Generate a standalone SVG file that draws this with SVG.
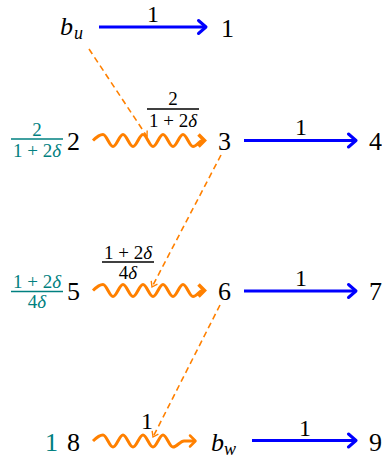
<svg xmlns="http://www.w3.org/2000/svg" width="382" height="459" viewBox="0 0 382 459">
<style>
text { font-family: "Liberation Serif", "Times New Roman", Times, "DejaVu Serif", serif; fill: #000; }
.n { font-size: 26px; }
.lab { font-size: 24px; text-anchor: middle; }
.fr { font-size: 19px; text-anchor: middle; }
.teal { fill: #008080; }
.it { font-style: italic; }
.sub { font-size: 18px; font-style: italic; }
.blue { stroke: #0000ff; stroke-width: 3; fill: none; }
.wave { stroke: #ff8000; stroke-width: 3; fill: none; stroke-linejoin: round; }
.dash { stroke: #ff8000; stroke-width: 1.6; fill: none; stroke-dasharray: 6 4; }
.barT { stroke: #008080; stroke-width: 1.5; }
.barB { stroke: #000; stroke-width: 1.5; }
</style>
<defs>
<marker id="bh" markerUnits="userSpaceOnUse" markerWidth="14" markerHeight="18" viewBox="0 0 14 18" refX="11" refY="9" orient="auto">
<path d="M3.5,2.5 L11,9 L3.5,15.5" fill="none" stroke="#0000ff" stroke-width="3" stroke-linejoin="round" stroke-linecap="round"/>
</marker>
<marker id="dh" markerUnits="userSpaceOnUse" markerWidth="10" markerHeight="10" viewBox="0 0 10 10" refX="8" refY="5" orient="auto">
<path d="M3,1.5 L8,5 L3,8.5" fill="none" stroke="#ff8000" stroke-width="1.4"/>
</marker>
</defs>

<g id="connectors">
<line class="blue" x1="99" y1="27" x2="206" y2="27" marker-end="url(#bh)"/>
<line class="blue" x1="244" y1="140.5" x2="356" y2="140.5" marker-end="url(#bh)"/>
<line class="blue" x1="244" y1="291" x2="356" y2="291" marker-end="url(#bh)"/>
<line class="blue" x1="252" y1="440.5" x2="356" y2="440.5" marker-end="url(#bh)"/>
<path class="wave" d="M93,140.5 C96,137.5 99,134.5 103,134.5 C106.6,134.5 109.4,146.5 113,146.5 S119.4,134.5 123,134.5 S129.4,146.5 133,146.5 S139.4,134.5 143,134.5 S149.4,146.5 153,146.5 S159.4,134.5 163,134.5 S169.4,146.5 173,146.5 S179.4,134.5 183,134.5 S189.4,146.5 193,146.5 C197,146.5 199,140.5 203,140.5"/>
<path d="M198.5,134.5 L204.5,140.5 L198.5,146.5" fill="none" stroke="#ff8000" stroke-width="3.5"/>
<path class="wave" d="M93,290.5 C96,287.5 99,284.5 103,284.5 C106.6,284.5 109.4,296.5 113,296.5 S119.4,284.5 123,284.5 S129.4,296.5 133,296.5 S139.4,284.5 143,284.5 S149.4,296.5 153,296.5 S159.4,284.5 163,284.5 S169.4,296.5 173,296.5 S179.4,284.5 183,284.5 S189.4,296.5 193,296.5 C197,296.5 199,290.5 203,290.5"/>
<path d="M198.5,284.5 L204.5,290.5 L198.5,296.5" fill="none" stroke="#ff8000" stroke-width="3.5"/>
<path class="wave" d="M93,441 C96,438 99,435 103,435 C106.6,435 109.4,447 113,447 S119.4,435 123,435 S129.4,447 133,447 S139.4,435 143,435 S149.4,447 153,447 S159.4,435 163,435 S169.4,447 173,447 C177,447 180,441 184,441 L195,441"/>
<path d="M190,435.5 L195.5,441 L190,446.5" fill="none" stroke="#ff8000" stroke-width="2.5" stroke-linejoin="round" stroke-linecap="round"/>
<line class="dash" x1="89" y1="49" x2="147" y2="136.5" marker-end="url(#dh)"/>
<line class="dash" x1="221" y1="155" x2="152" y2="287" marker-end="url(#dh)"/>
<line class="dash" x1="220" y1="305" x2="153" y2="437" marker-end="url(#dh)"/>
</g>

<g id="edge-labels">
<text class="lab" x="153" y="22">1</text>
<text class="lab" x="301" y="135">1</text>
<text class="lab" x="301" y="286">1</text>
<text class="lab" x="305" y="436">1</text>
<text class="lab" x="147" y="429">1</text>
<g id="frac-2-3">
<text class="fr" x="173" y="105">2</text>
<line class="barB" x1="147" y1="109" x2="199" y2="109"/>
<text class="fr" x="173" y="126.5">1 + 2<tspan class="it">δ</tspan></text>
</g>
<g id="frac-5-6">
<text class="fr" x="128" y="258.5">1 + 2<tspan class="it">δ</tspan></text>
<line class="barB" x1="102" y1="262" x2="154" y2="262"/>
<text class="fr" x="128" y="279">4<tspan class="it">δ</tspan></text>
</g>
</g>

<g id="node-bu"><text class="n it" x="60" y="35">b</text><text class="sub" x="74" y="39">u</text></g>
<g id="node-1"><text class="n" x="221" y="37">1</text></g>
<g id="node-2">
<text class="fr teal" x="37" y="136">2</text>
<line class="barT" x1="11" y1="139" x2="63" y2="139"/>
<text class="fr teal" x="37" y="157">1 + 2<tspan class="it">δ</tspan></text>
<text class="n" x="67" y="150">2</text>
</g>
<g id="node-3"><text class="n" x="218" y="150">3</text></g>
<g id="node-4"><text class="n" x="369" y="150">4</text></g>
<g id="node-5">
<text class="fr teal" x="37" y="288">1 + 2<tspan class="it">δ</tspan></text>
<line class="barT" x1="11" y1="291.5" x2="63" y2="291.5"/>
<text class="fr teal" x="37" y="308">4<tspan class="it">δ</tspan></text>
<text class="n" x="67" y="300">5</text>
</g>
<g id="node-6"><text class="n" x="218" y="300">6</text></g>
<g id="node-7"><text class="n" x="369" y="300">7</text></g>
<g id="node-8">
<text class="n teal" x="45" y="451">1</text>
<text class="n" x="67" y="451">8</text>
</g>
<g id="node-bw"><text class="n it" x="211" y="451">b</text><text class="sub" x="224" y="455">w</text></g>
<g id="node-9"><text class="n" x="369" y="451">9</text></g>
</svg>
